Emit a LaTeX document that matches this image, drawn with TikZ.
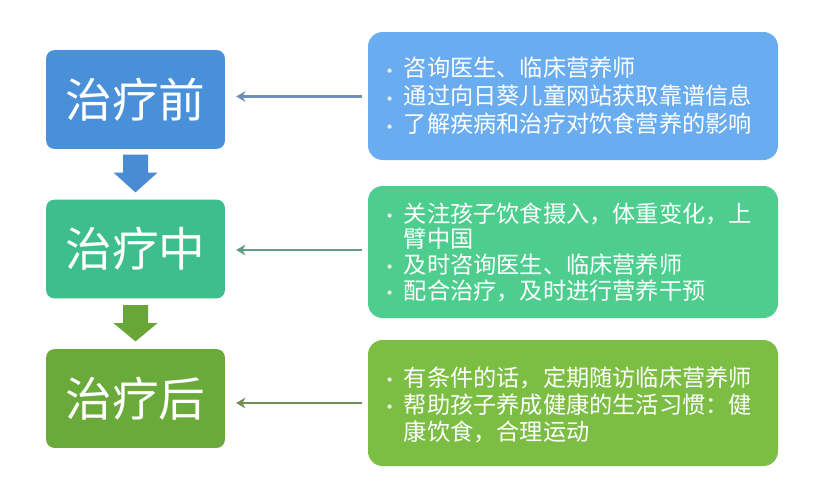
\documentclass[tikz,border=0pt]{standalone}
\usepackage{fontspec}
\setmainfont{Noto Sans CJK SC}
\newfontfamily\dejavu{DejaVu Sans}
\usetikzlibrary{calc,arrows.meta}
\definecolor{lA}{RGB}{74,144,217}
\definecolor{lB}{RGB}{62,190,140}
\definecolor{lC}{RGB}{106,170,58}
\definecolor{rA}{RGB}{106,172,240}
\definecolor{rB}{RGB}{78,206,142}
\definecolor{rC}{RGB}{124,190,68}
\definecolor{aA}{RGB}{112,142,184}
\definecolor{aB}{RGB}{96,158,134}
\definecolor{aC}{RGB}{112,142,86}
\definecolor{bA}{RGB}{74,140,212}
\definecolor{bB}{RGB}{104,166,56}
\newcommand{\bul}{\makebox[14pt][l]{\raisebox{0.05ex}{\dejavu\fontsize{11}{11}\selectfont\color{white!85!gray}•}}}
\newcommand{\ind}{\hspace*{14pt}}
\tikzset{
  stage/.style={draw=none, rounded corners=6pt, minimum width=134pt, minimum height=74pt,
    inner sep=0pt, text=white, font=\fontsize{35}{40}\selectfont},
  panel/.style={draw=none, rounded corners=11pt, inner sep=0pt},
  rtext/.style={text=white, align=left, inner sep=0pt, anchor=west,
    font=\fontsize{17.4}{20.5}\selectfont},
  link/.style={line width=2.2pt, -{Stealth[length=7pt,width=8pt]}}
}
\begin{document}
\begin{tikzpicture}[x=0.75pt,y=-0.75pt]
\useasboundingbox (0,0) rectangle (820,496);
\fill[white] (0,0) rectangle (820,496);
% left stage boxes
\node[stage, fill=lA] (l1) at (135.5,99.5) {治疗前};
\node[stage, fill=lB] (l2) at (135.5,249) {治疗中};
\node[stage, fill=lC] (l3) at (135.5,398.5) {治疗后};
% right panels
\node[panel, fill=rA, minimum width=307.5pt, minimum height=96pt] (r1) at (573,96) {};
\node[panel, fill=rB, minimum width=307.5pt, minimum height=99pt] (r2) at (573,252) {};
\node[panel, fill=rC, minimum width=307.5pt, minimum height=94.5pt] (r3) at (573,403) {};
% panel texts
\node[rtext, font=\fontsize{17.4}{21}\selectfont] (t1) at (385,96) {\bul 咨询医生、临床营养师\\\bul 通过向日葵儿童网站获取靠谱信息\\\bul 了解疾病和治疗对饮食营养的影响};
\node[rtext, font=\fontsize{17.4}{19.3}\selectfont] (t2) at (385,252) {\bul 关注孩子饮食摄入，体重变化，上\\\ind 臂中国\\\bul 及时咨询医生、临床营养师\\\bul 配合治疗，及时进行营养干预};
\node[rtext, font=\fontsize{17.4}{20.3}\selectfont] (t3) at (385,405) {\bul 有条件的话，定期随访临床营养师\\\bul 帮助孩子养成健康的生活习惯：健\\\ind 康饮食，合理运动};
% connectors
\draw[link, draw=aA, fill=aA] ($(r1.west |- l1.east)+(-6,-3)$) -- ($(l1.east)+(11,-3)$);
\draw[link, draw=aB, fill=aB] ($(r2.west |- l2.east)+(-6,1)$) -- ($(l2.east)+(11,1)$);
\draw[link, draw=aC, fill=aC] ($(r3.west |- l3.east)+(-6,4.5)$) -- ($(l3.east)+(11,4.5)$);
% block arrows
\fill[bA] ($(l1.south)+(-12.5,5.5)$) -- ++(25,0) -- ++(0,18) -- ++(9.5,0) -- ($(l2.north)+(0,-7)$) -- ($(l1.south)+(-22,23.5)$) -- ++(9.5,0) -- cycle;
\fill[bB] ($(l2.south)+(-12.5,6.5)$) -- ++(25,0) -- ++(0,18) -- ++(9.5,0) -- ($(l3.north)+(0,-7.5)$) -- ($(l2.south)+(-22,24.5)$) -- ++(9.5,0) -- cycle;
\end{tikzpicture}
\end{document}
